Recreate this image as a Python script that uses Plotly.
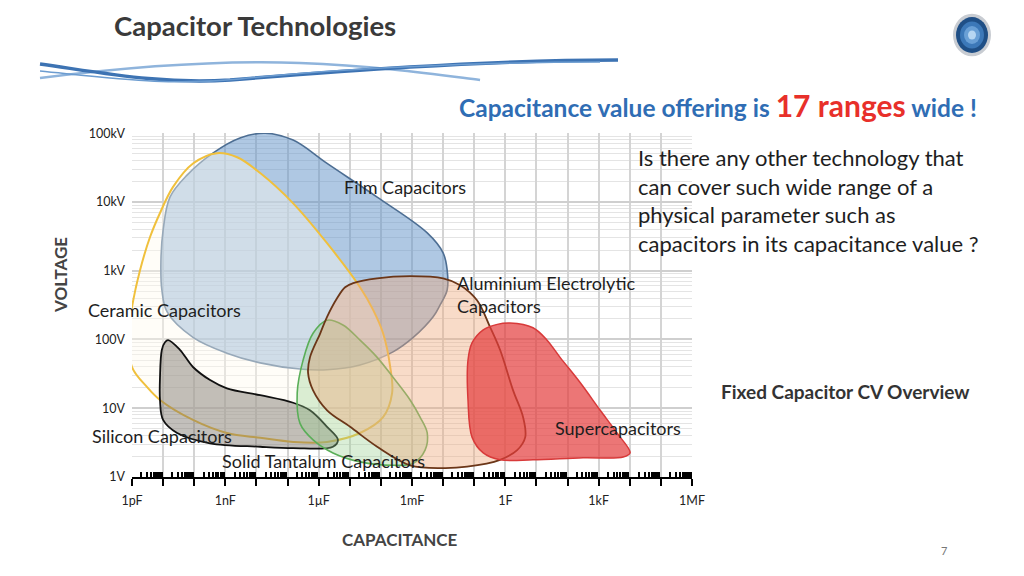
import plotly.graph_objects as go

# ---------------- data (log10 of capacitance [F] and voltage [V]) ----------------
film_logc = [-7.72, -6.82, -5.73, -4.12, -2.51, -2.00, -1.87, -1.87, -2.10, -2.32, -2.96, -3.61,
             -4.67, -5.73, -6.60, -7.88, -8.95, -10.04, -10.87, -11.04, -11.07, -11.00, -10.78,
             -10.23, -9.40, -8.53]
film_logv = [5.00, 4.90, 4.56, 4.07, 3.55, 3.26, 3.01, 2.72, 2.50, 2.33, 2.03, 1.82,
             1.63, 1.56, 1.57, 1.66, 1.80, 2.03, 2.40, 2.72, 3.15, 3.59, 4.07,
             4.39, 4.71, 4.93]

ceramic_logc = [-9.27, -10.04, -10.68, -11.10, -11.42, -11.74, -12.00, -12.10, -12.00, -11.52,
                -11.10, -10.04, -8.95, -7.88, -6.82, -5.73, -4.67, -3.93, -3.64, -3.70, -3.93,
                -4.25, -4.67, -5.73, -6.82, -7.88, -8.62]
ceramic_logv = [4.71, 4.56, 4.22, 3.84, 3.49, 3.01, 2.47, 2.09, 1.60, 1.31,
                1.12, 0.83, 0.64, 0.57, 0.51, 0.51, 0.64, 0.87, 1.22, 1.60, 2.09,
                2.43, 2.76, 3.40, 3.98, 4.42, 4.65]

silicon_logc = [-10.84, -10.46, -10.04, -9.49, -8.95, -7.88, -6.82, -6.28, -5.73, -5.38, -5.54,
                -6.82, -7.88, -9.49, -10.55, -11.00, -11.10, -11.10, -11.04, -10.94]
silicon_logv = [1.99, 1.85, 1.60, 1.41, 1.29, 1.19, 1.08, 0.97, 0.73, 0.54, 0.44,
                0.42, 0.44, 0.49, 0.64, 0.83, 1.12, 1.45, 1.85, 1.96]

tantalum_logc = [-5.73, -6.18, -6.50, -6.69, -6.60, -6.18, -5.54, -4.67, -3.61, -2.96, -2.58,
                 -2.51, -2.74, -3.06, -3.61, -4.12, -4.67, -5.22]
tantalum_logv = [2.28, 2.09, 1.70, 1.22, 0.78, 0.54, 0.35, 0.22, 0.17, 0.20, 0.39,
                 0.64, 0.87, 1.12, 1.45, 1.74, 1.99, 2.21]

alu_logc = [-4.89, -4.12, -3.06, -2.00, -1.45, -0.91, -0.49, -0.17, 0.25, 0.57, 0.64, 0.38,
            -0.17, -1.23, -2.00, -3.06, -4.12, -4.99, -5.73, -6.18, -6.34, -6.28, -5.95,
            -5.73, -5.41, -5.15]
alu_logv = [2.82, 2.89, 2.92, 2.89, 2.79, 2.57, 2.18, 1.85, 1.26, 0.87, 0.58, 0.39,
            0.25, 0.15, 0.13, 0.17, 0.44, 0.73, 0.97, 1.26, 1.51, 1.74, 2.09,
            2.33, 2.60, 2.76]

super_logc = [0.15, 0.89, 1.34, 1.76, 2.41, 3.05, 3.59, 4.01, 3.79, 2.50, 0.89, -0.17,
              -0.71, -1.07, -1.20, -1.20, -1.07, -0.71, -0.26]
super_logv = [2.24, 2.17, 1.99, 1.74, 1.37, 0.97, 0.64, 0.35, 0.29, 0.28, 0.25, 0.25,
              0.35, 0.58, 1.12, 1.70, 1.95, 2.14, 2.22]

# axis ticks
x_decades = list(range(-12, 7))
x_labels = {-12: "1pF", -9: "1nF", -6: "1µF", -3: "1mF", 0: "1F", 3: "1kF", 6: "1MF"}
y_decades = [0, 1, 2, 3, 4, 5]
y_labels = ["1V", "10V", "100V", "1kV", "10kV", "100kV"]

# region labels: (text, log10 C, log10 V, anchor)
region_labels = [
    ("Film Capacitors", -3.22, 4.22, "center"),
    ("Ceramic Capacitors", -10.97, 2.43, "center"),
    ("Silicon Capacitors", -11.03, 0.60, "center"),
    ("Solid Tantalum Capacitors", -5.86, 0.23, "center"),
    ("Aluminium Electrolytic<br>Capacitors", -1.61, 2.66, "left"),
    ("Supercapacitors", 3.63, 0.71, "center"),
]

FONT = "Lato"
# page offset of the figure (browser body margin) and figure size
OX, OY = 8, 8
W, H = 1016, 560

def P(px, py):
    return (px - OX) / W, 1 - (py - OY) / H

def closed(lc, lv):
    xs = [10 ** v for v in lc] + [10 ** lc[0]]
    ys = [10 ** v for v in lv] + [10 ** lv[0]]
    return xs, ys

blobs = [
    (film_logc, film_logv, "rgba(95,145,200,0.50)", "#4d6e93", 1.6),
    (ceramic_logc, ceramic_logv, "rgba(255,250,238,0.42)", "#f0c03c", 2.0),
    (silicon_logc, silicon_logv, "rgba(120,112,105,0.45)", "#111111", 1.8),
    (tantalum_logc, tantalum_logv, "rgba(150,205,140,0.35)", "#5aae58", 1.6),
    (alu_logc, alu_logv, "rgba(238,170,125,0.42)", "#6b3618", 1.8),
    (super_logc, super_logv, "rgba(228,60,60,0.70)", "#d83a3a", 1.5),
]

fig = go.Figure()
for lc, lv, fill, line, w in blobs:
    xs, ys = closed(lc, lv)
    fig.add_trace(go.Scatter(x=xs, y=ys, mode="lines", fill="toself", fillcolor=fill,
                             line=dict(color=line, width=w, shape="spline", smoothing=1.0),
                             hoverinfo="skip", showlegend=False))

minor_x = [k * 10.0 ** e for e in range(-12, 6) for k in range(2, 10)]
minor_y = [k * 10.0 ** e for e in range(0, 5) for k in range(2, 10)]

xd0, _ = P(132, 0)
xd1, _ = P(692, 0)
_, yd0 = P(0, 477)
_, yd1 = P(0, 133)

fig.update_layout(
    width=W, height=H,
    margin=dict(l=0, r=0, t=0, b=0, autoexpand=False),
    paper_bgcolor="white", plot_bgcolor="white",
    showlegend=False,
    font=dict(family=FONT, color="#222222"),
    xaxis=dict(
        type="log", range=[-12, 6], domain=[xd0, xd1], automargin=False,
        tickmode="array", tickvals=[10.0 ** e for e in x_decades],
        ticktext=[x_labels.get(e, "") for e in x_decades],
        showgrid=True, gridcolor="#d4d4d4", gridwidth=1.5,
        showline=True, linecolor="black", linewidth=2,
        ticks="outside", ticklen=7, tickwidth=2, tickcolor="black",
        ticklabelstandoff=4,
        tickfont=dict(size=12.5, family=FONT, color="#222"),
        minor=dict(tickmode="array", tickvals=minor_x, ticks="inside", ticklen=5,
                   tickwidth=1.5, tickcolor="black", showgrid=False),
        zeroline=False, fixedrange=True,
    ),
    yaxis=dict(
        type="log", range=[0, 5.003], domain=[yd0, yd1],
        automargin=False,
        tickmode="array", tickvals=[10.0 ** e for e in y_decades], ticktext=y_labels,
        showgrid=True, gridcolor="#cfcfcf", gridwidth=1.5,
        showline=False, ticks="", ticklabelstandoff=6,
        tickfont=dict(size=12.5, family=FONT, color="#222"),
        minor=dict(tickmode="array", tickvals=minor_y, showgrid=True,
                   gridcolor="#e4e4e4", gridwidth=1, ticks=""),
        zeroline=False, fixedrange=True,
    ),
)

# region label annotations
for text, lc, lv, anchor in region_labels:
    fig.add_annotation(x=lc, y=lv, xref="x", yref="y", text=text, showarrow=False,
                       xanchor=anchor, align=anchor,
                       font=dict(size=18, family=FONT, color="#1e1e1e"))

# slide texts
ax, ay = P(112, 25)
fig.add_annotation(x=ax, y=ay, xref="paper", yref="paper", xanchor="left", yanchor="middle",
                   text="<b>Capacitor Technologies</b>", showarrow=False,
                   font=dict(size=27.5, family=FONT, color="#3a3a3a"))
ax, ay = P(718, 105)
fig.add_annotation(x=ax, y=ay, xref="paper", yref="paper", xanchor="center", yanchor="middle",
                   text="<b>Capacitance value offering is <span style='color:#e8302a;font-size:30px'>17 ranges</span> wide !</b>",
                   showarrow=False, font=dict(size=24.5, family=FONT, color="#2f6db4"))
ax, ay = P(636, 200)
fig.add_annotation(x=ax, y=ay, xref="paper", yref="paper", xanchor="left", yanchor="middle",
                   align="left",
                   text="Is there any other technology that<br>can cover such wide range of a<br>physical parameter such as<br>capacitors in its capacitance value ?",
                   showarrow=False, font=dict(size=22, family=FONT, color="#1e1e1e"))
ax, ay = P(845, 391)
fig.add_annotation(x=ax, y=ay, xref="paper", yref="paper", xanchor="center", yanchor="middle",
                   text="<b>Fixed Capacitor CV Overview</b>", showarrow=False,
                   font=dict(size=19, family=FONT, color="#333"))
ax, ay = P(60, 275)
fig.add_annotation(x=ax, y=ay, xref="paper", yref="paper", xanchor="center", yanchor="middle",
                   text="<b>VOLTAGE</b>", textangle=-90, showarrow=False,
                   font=dict(size=17, family=FONT, color="#444"))
ax, ay = P(400, 539)
fig.add_annotation(x=ax, y=ay, xref="paper", yref="paper", xanchor="center", yanchor="middle",
                   text="<b>CAPACITANCE</b>", showarrow=False,
                   font=dict(size=17, family=FONT, color="#444"))
ax, ay = P(944, 550)
fig.add_annotation(x=ax, y=ay, xref="paper", yref="paper", xanchor="center", yanchor="middle",
                   text="7", showarrow=False, font=dict(size=11, family=FONT, color="#777"))

# decorative wave under the title
def path(pts):
    s = "M {:.4f},{:.4f}".format(*P(*pts[0]))
    for i in range(1, len(pts), 3):
        a, b, c = P(*pts[i]), P(*pts[i + 1]), P(*pts[i + 2])
        s += " C {:.4f},{:.4f} {:.4f},{:.4f} {:.4f},{:.4f}".format(*a, *b, *c)
    return s

fig.add_shape(type="path", xref="paper", yref="paper",
              path=path([(40, 78), (120, 68), (220, 60), (300, 63), (380, 66), (440, 75), (480, 80)]),
              line=dict(color="#8fb4dc", width=2.5))
fig.add_shape(type="path", xref="paper", yref="paper",
              path=path([(40, 64), (110, 74), (160, 84), (230, 80), (330, 72), (480, 60), (618, 60)]),
              line=dict(color="#3d73b3", width=3.5))
fig.add_shape(type="path", xref="paper", yref="paper",
              path=path([(40, 71), (120, 79), (170, 86), (240, 79), (330, 69), (480, 62), (600, 62)]),
              line=dict(color="#6c9cd0", width=1.5))

# logo
for (r, col) in [(19, "#c8ccd2"), (16, "#1f4f86"), (12, "#3c78b8"), (8, "#6aa0d6"), (4, "#b7d6f2")]:
    x0, y0 = P(972 - r, 35 + r * 1.12)
    x1, y1 = P(972 + r, 35 - r * 1.12)
    fig.add_shape(type="circle", xref="paper", yref="paper", x0=x0, y0=y0, x1=x1, y1=y1,
                  fillcolor=col, line=dict(width=0, color=col))

fig.write_html("out.html")
